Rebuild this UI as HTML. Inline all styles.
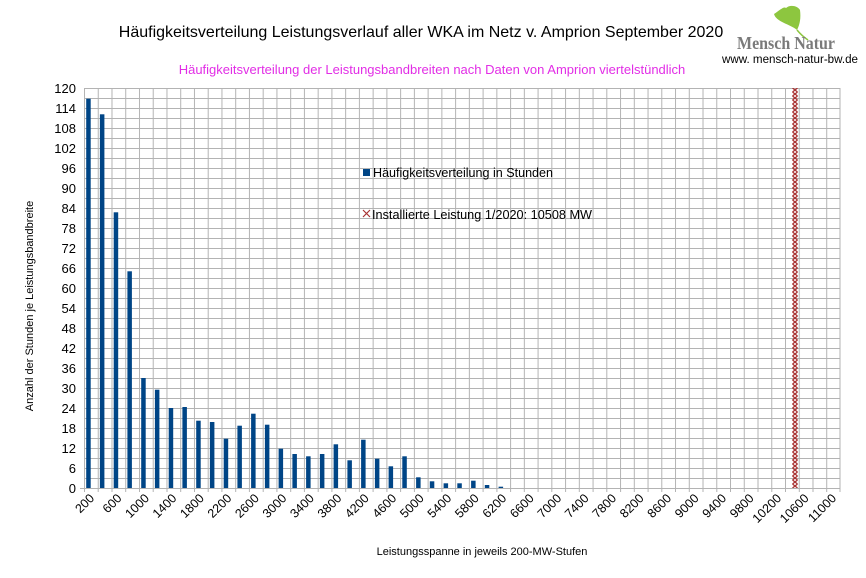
<!DOCTYPE html>
<html><head><meta charset="utf-8"><style>
html,body{margin:0;padding:0;background:#fff;}
svg{display:block;font-family:"Liberation Sans",sans-serif;}
</style></head><body>
<svg width="866" height="578" viewBox="0 0 866 578" xmlns="http://www.w3.org/2000/svg">
<defs>
<pattern id="grid" x="84" y="88" width="13.745" height="10" patternUnits="userSpaceOnUse">
<line x1="0.5" y1="0" x2="0.5" y2="10" stroke="#b3b3b3" stroke-width="1"/>
<line x1="0" y1="0.5" x2="13.745" y2="0.5" stroke="#b3b3b3" stroke-width="1"/>
</pattern>
<pattern id="xs" x="792" y="88" width="6" height="4" patternUnits="userSpaceOnUse">
<path d="M0.5 0 L5.5 4 M5.5 0 L0.5 4" stroke="#a83232" stroke-width="1.3" fill="none"/>
</pattern>
</defs>
<rect width="866" height="578" fill="#fff"/>
<text x="421" y="37" font-size="16" text-anchor="middle" fill="#000">Häufigkeitsverteilung Leistungsverlauf aller WKA im Netz v. Amprion September 2020</text>
<text x="432" y="74" font-size="13" text-anchor="middle" fill="#e22ee6">Häufigkeitsverteilung der Leistungsbandbreiten nach Daten von Amprion viertelstündlich</text>
<!-- logo -->
<path d="M797 30 C790 24 776 22 774 14 C780 10 784 6 786 8 C790 4 798 6 800 10 C801 18 800 24 797 30 Z" fill="#8dc63f"/>
<path d="M797 30 Q802 36 808 40" stroke="#8dc63f" stroke-width="1.5" fill="none"/>
<text x="737" y="49" font-family="Liberation Serif,serif" font-weight="bold" font-size="18" fill="#7a7a7a" textLength="98" lengthAdjust="spacingAndGlyphs">Mensch Natur</text>
<text x="722" y="63" font-size="11.5" fill="#000" textLength="136" lengthAdjust="spacingAndGlyphs">www. mensch-natur-bw.de</text>
<!-- grid -->
<rect x="84" y="88" width="756" height="400" fill="url(#grid)"/>
<line x1="840" y1="88" x2="840" y2="492" stroke="#b3b3b3"/>
<line x1="80" y1="488.5" x2="840" y2="488.5" stroke="#b3b3b3"/>
<path d="M84.5 488 V492 M98.2 488 V492 M112 488 V492 M125.7 488 V492 M139.5 488 V492 M153.2 488 V492 M167 488 V492 M180.7 488 V492 M194.5 488 V492 M208.2 488 V492 M221.9 488 V492 M235.7 488 V492 M249.4 488 V492 M263.2 488 V492 M276.9 488 V492 M290.7 488 V492 M304.4 488 V492 M318.2 488 V492 M331.9 488 V492 M345.7 488 V492 M359.4 488 V492 M373.1 488 V492 M386.9 488 V492 M400.6 488 V492 M414.4 488 V492 M428.1 488 V492 M441.9 488 V492 M455.6 488 V492 M469.4 488 V492 M483.1 488 V492 M496.9 488 V492 M510.6 488 V492 M524.3 488 V492 M538.1 488 V492 M551.8 488 V492 M565.6 488 V492 M579.3 488 V492 M593.1 488 V492 M606.8 488 V492 M620.6 488 V492 M634.3 488 V492 M648.1 488 V492 M661.8 488 V492 M675.5 488 V492 M689.3 488 V492 M703 488 V492 M716.8 488 V492 M730.5 488 V492 M744.3 488 V492 M758 488 V492 M771.8 488 V492 M785.5 488 V492 M799.3 488 V492 M813 488 V492 M826.7 488 V492" stroke="#b3b3b3"/>
<!-- bars -->
<g fill="#004586">
<rect x="86.2" y="98.7" width="4.5" height="389.3"/>
<rect x="99.9" y="114.3" width="4.5" height="373.7"/>
<rect x="113.7" y="212.3" width="4.5" height="275.7"/>
<rect x="127.4" y="271.3" width="4.5" height="216.7"/>
<rect x="141.2" y="378" width="4.5" height="110"/>
<rect x="154.9" y="389.7" width="4.5" height="98.3"/>
<rect x="168.7" y="408" width="4.5" height="80"/>
<rect x="182.4" y="407" width="4.5" height="81"/>
<rect x="196.2" y="420.7" width="4.5" height="67.3"/>
<rect x="209.9" y="422" width="4.5" height="66"/>
<rect x="223.7" y="438.7" width="4.5" height="49.3"/>
<rect x="237.4" y="425.7" width="4.5" height="62.3"/>
<rect x="251.1" y="413.7" width="4.5" height="74.3"/>
<rect x="264.9" y="424.7" width="4.5" height="63.3"/>
<rect x="278.6" y="448.7" width="4.5" height="39.3"/>
<rect x="292.4" y="454" width="4.5" height="34"/>
<rect x="306.1" y="456.3" width="4.5" height="31.7"/>
<rect x="319.9" y="454" width="4.5" height="34"/>
<rect x="333.6" y="444.3" width="4.5" height="43.7"/>
<rect x="347.4" y="460.3" width="4.5" height="27.7"/>
<rect x="361.1" y="439.7" width="4.5" height="48.3"/>
<rect x="374.9" y="458.7" width="4.5" height="29.3"/>
<rect x="388.6" y="466.3" width="4.5" height="21.7"/>
<rect x="402.3" y="456.3" width="4.5" height="31.7"/>
<rect x="416.1" y="477.3" width="4.5" height="10.7"/>
<rect x="429.8" y="481.3" width="4.5" height="6.7"/>
<rect x="443.6" y="483.3" width="4.5" height="4.7"/>
<rect x="457.3" y="483.3" width="4.5" height="4.7"/>
<rect x="471.1" y="480.7" width="4.5" height="7.3"/>
<rect x="484.8" y="485" width="4.5" height="3"/>
<rect x="498.6" y="486.7" width="4.5" height="1.3"/>
</g>
<!-- installed capacity line -->
<rect x="792" y="88" width="6" height="400" fill="url(#xs)"/>
<!-- legend -->
<rect x="363" y="169" width="7" height="7" fill="#004586"/>
<text x="373" y="177" font-size="12.5" fill="#000" textLength="180" lengthAdjust="spacingAndGlyphs">Häufigkeitsverteilung in Stunden</text>
<path d="M363 210 L370 217 M370 210 L363 217" stroke="#a83232" stroke-width="1.2"/>
<text x="372" y="219" font-size="12.5" fill="#000" textLength="220" lengthAdjust="spacingAndGlyphs">Installierte Leistung 1/2020: 10508 MW</text>
<!-- y labels -->
<g font-size="13" text-anchor="end" fill="#000">
<text x="76" y="493">0</text><text x="76" y="473">6</text><text x="76" y="453">12</text><text x="76" y="433">18</text><text x="76" y="413">24</text><text x="76" y="393">30</text><text x="76" y="373">36</text><text x="76" y="353">42</text><text x="76" y="333">48</text><text x="76" y="313">54</text><text x="76" y="293">60</text><text x="76" y="273">66</text><text x="76" y="253">72</text><text x="76" y="233">78</text><text x="76" y="213">84</text><text x="76" y="193">90</text><text x="76" y="173">96</text><text x="76" y="153">102</text><text x="76" y="133">108</text><text x="76" y="113">114</text><text x="76" y="93">120</text>
</g>
<!-- x labels -->
<g font-size="12.5" text-anchor="end" fill="#000">
<text transform="translate(95,499) rotate(-45)">200</text>
<text transform="translate(122.4,499) rotate(-45)">600</text>
<text transform="translate(149.9,499) rotate(-45)">1000</text>
<text transform="translate(177.3,499) rotate(-45)">1400</text>
<text transform="translate(204.8,499) rotate(-45)">1800</text>
<text transform="translate(232.3,499) rotate(-45)">2200</text>
<text transform="translate(259.8,499) rotate(-45)">2600</text>
<text transform="translate(287.3,499) rotate(-45)">3000</text>
<text transform="translate(314.8,499) rotate(-45)">3400</text>
<text transform="translate(342.3,499) rotate(-45)">3800</text>
<text transform="translate(369.7,499) rotate(-45)">4200</text>
<text transform="translate(397.2,499) rotate(-45)">4600</text>
<text transform="translate(424.7,499) rotate(-45)">5000</text>
<text transform="translate(452.2,499) rotate(-45)">5400</text>
<text transform="translate(479.7,499) rotate(-45)">5800</text>
<text transform="translate(507.2,499) rotate(-45)">6200</text>
<text transform="translate(534.7,499) rotate(-45)">6600</text>
<text transform="translate(562.2,499) rotate(-45)">7000</text>
<text transform="translate(589.6,499) rotate(-45)">7400</text>
<text transform="translate(617.1,499) rotate(-45)">7800</text>
<text transform="translate(644.6,499) rotate(-45)">8200</text>
<text transform="translate(672.1,499) rotate(-45)">8600</text>
<text transform="translate(699.6,499) rotate(-45)">9000</text>
<text transform="translate(727.1,499) rotate(-45)">9400</text>
<text transform="translate(754.6,499) rotate(-45)">9800</text>
<text transform="translate(782.1,499) rotate(-45)">10200</text>
<text transform="translate(809.5,499) rotate(-45)">10600</text>
<text transform="translate(837,499) rotate(-45)">11000</text>
</g>
<text transform="translate(33,306) rotate(-90)" font-size="11" text-anchor="middle" fill="#000">Anzahl der Stunden je Leistungsbandbreite</text>
<text x="482" y="555" font-size="11" text-anchor="middle" fill="#000">Leistungsspanne in jeweils 200-MW-Stufen</text>
</svg>
</body></html>
